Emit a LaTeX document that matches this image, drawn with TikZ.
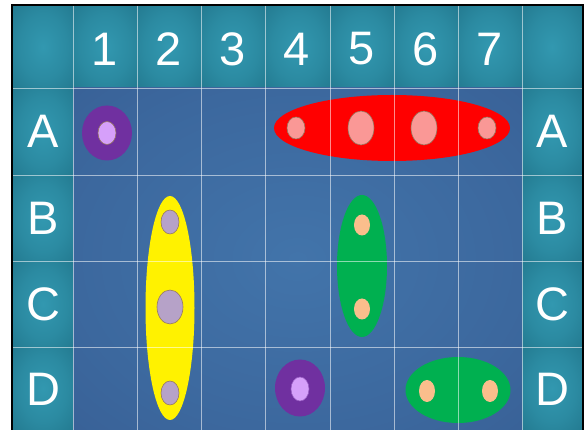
\documentclass[tikz,border=0pt]{standalone}
\usepackage{fontspec}
\setmainfont{Liberation Sans}
\usetikzlibrary{shapes.geometric}
\definecolor{tealin}{RGB}{50,152,176}
\definecolor{tealout}{RGB}{33,118,140}
\definecolor{bluein}{RGB}{66,116,170}
\definecolor{blueout}{RGB}{54,92,146}
\definecolor{purp}{RGB}{112,48,160}
\definecolor{lav}{RGB}{214,160,250}
\definecolor{lavgray}{RGB}{182,162,200}
\definecolor{pinkdot}{RGB}{250,152,150}
\definecolor{peach}{RGB}{250,190,140}
\definecolor{grn}{RGB}{0,176,80}
\definecolor{dotline}{RGB}{150,120,95}
\pgfdeclareradialshading{cellshade}{\pgfpoint{0bp}{0bp}}{color(0bp)=(tealin); color(20bp)=(tealin!60!tealout); color(40bp)=(tealout); color(50bp)=(tealout)}
\pgfdeclareradialshading{innershade}{\pgfpoint{0bp}{0bp}}{color(0bp)=(bluein); color(25bp)=(bluein!50!blueout); color(45bp)=(blueout); color(50bp)=(blueout)}
\begin{document}
\begin{tikzpicture}[x=1pt,y=-1pt,
  blob/.style={ellipse, inner sep=0pt, draw=none},
  dotp/.style={ellipse, inner sep=0pt, draw=dotline, line width=0.6pt},
  lbl/.style={text=white, font=\fontsize{47}{47}\selectfont, inner sep=0pt, anchor=center},
  gridl/.style={draw=white, draw opacity=0.55, line width=0.8pt}]
\useasboundingbox (0,0) rectangle (587,430);
\fill[white] (0,0) rectangle (587,430);
% header row cells
\foreach \xa/\xb in {13/73,73/137,137/201,201/265,265/330,330/394,394/458,458/522,522/582}
  \shade[shading=cellshade] (\xa,6) rectangle (\xb,88);
% side column cells
\foreach \ya/\yb in {88/175,175/261,261/347,347/430} {
  \shade[shading=cellshade] (13,\ya) rectangle (73,\yb);
  \shade[shading=cellshade] (522,\ya) rectangle (582,\yb);
}
% inner area
\shade[shading=innershade] (73,88) rectangle (522,430);
% border
\draw[line width=2pt, black] (12,430) -- (12,5) -- (583,5) -- (583,430);
% big ellipses
\node[blob, fill=purp, minimum width=50, minimum height=55] (pA1) at (107,133) {};
\node[blob, fill=red, minimum width=236, minimum height=66] (rA) at (392,128) {};
\node[blob, fill=yellow, minimum width=49, minimum height=224] (y2) at (170,308) {};
\node[blob, fill=grn, minimum width=50, minimum height=142] (g5) at (362,266) {};
\node[blob, fill=grn, minimum width=105, minimum height=66] (gD) at (458,390) {};
\node[blob, fill=purp, minimum width=50, minimum height=57] (pD4) at (300,388) {};
% grid lines
\foreach \x in {73,137,201,265,330,394,458,522}
  \draw[gridl] (\x,6) -- (\x,430);
\foreach \y in {88,175,261,347}
  \draw[gridl] (13,\y) -- (582,\y);
% dots
\node[dotp, fill=lav, minimum width=18, minimum height=23] (dA1) at (107,133) {};
\node[dotp, fill=pinkdot, minimum width=18, minimum height=22] (dA4) at (296,128) {};
\node[dotp, fill=pinkdot, minimum width=26, minimum height=34] (dA5) at (361,128) {};
\node[dotp, fill=pinkdot, minimum width=26, minimum height=34] (dA6) at (424,128) {};
\node[dotp, fill=pinkdot, minimum width=18, minimum height=22] (dA7) at (487,128) {};
\node[dotp, fill=lavgray, minimum width=18, minimum height=24] (dB2) at (170,222) {};
\node[dotp, fill=lavgray, minimum width=26, minimum height=34] (dC2) at (170,307) {};
\node[dotp, fill=lavgray, minimum width=18, minimum height=24] (dD2) at (170,393) {};
\node[blob, fill=peach, minimum width=16, minimum height=21] (dB5) at (362,225) {};
\node[blob, fill=peach, minimum width=16, minimum height=21] (dC5) at (362,309) {};
\node[blob, fill=peach, minimum width=16, minimum height=22] (dD6) at (427,391) {};
\node[blob, fill=peach, minimum width=16, minimum height=22] (dD7) at (490,391) {};
\node[dotp, fill=lav, draw=purp!60!lav, minimum width=18, minimum height=24] (dD4) at (300,389) {};
% labels
\foreach \t/\x in {1/105,2/169,3/233,4/297,5/362,6/426,7/490}
  \node[lbl] (n\t) at (\x,49) {\t};
\foreach \t/\y in {A/131,B/218,C/304,D/389} {
  \node[lbl] (l\t) at (43,\y) {\t};
  \node[lbl] (r\t) at (552,\y) {\t};
}
\end{tikzpicture}
\end{document}
